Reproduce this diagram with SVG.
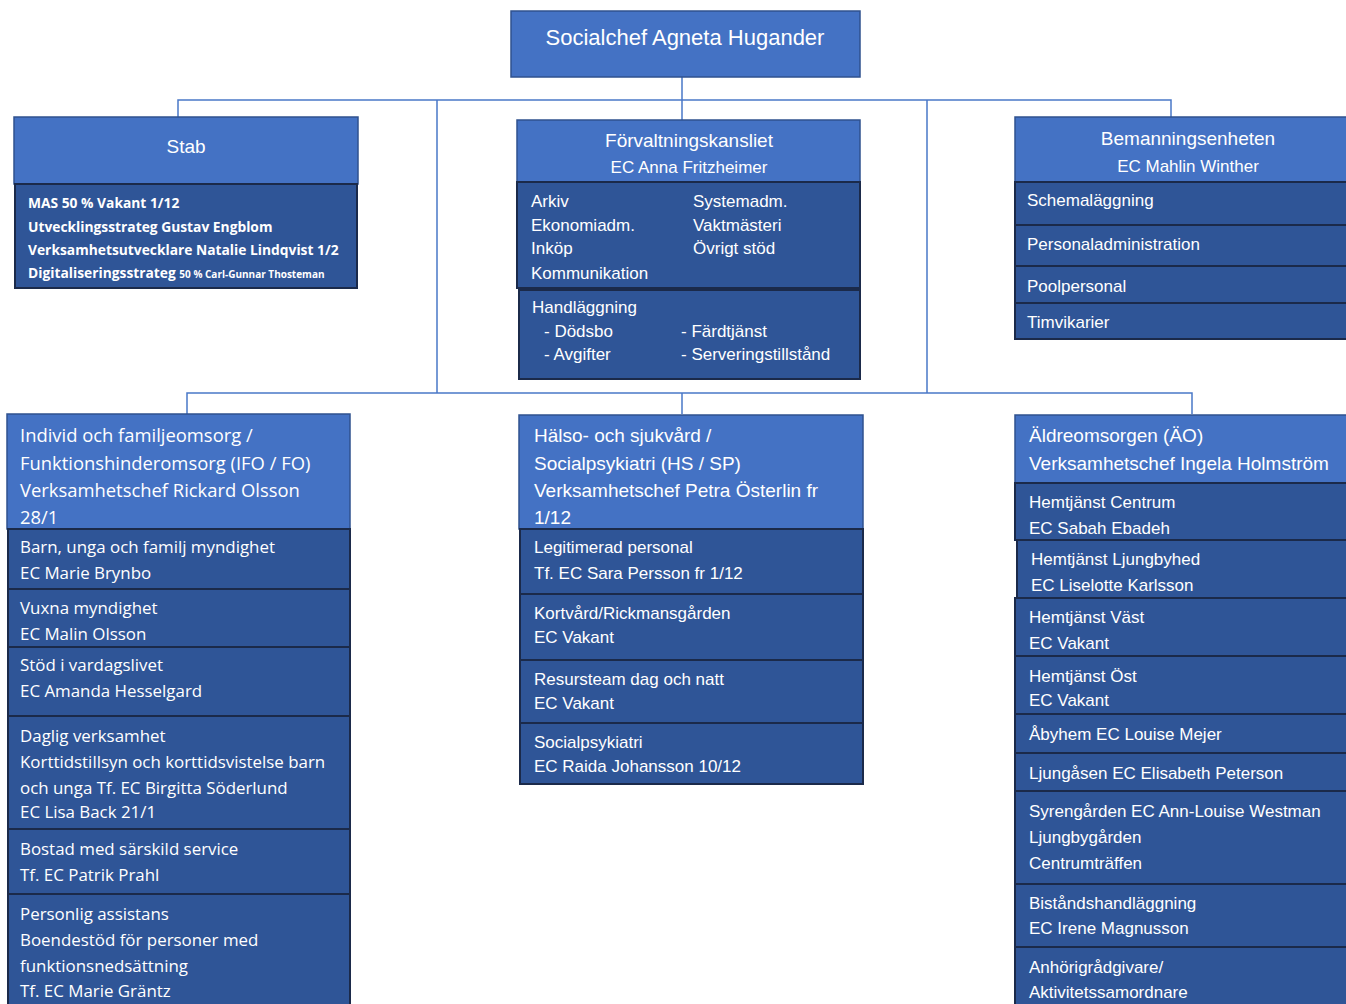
<svg xmlns="http://www.w3.org/2000/svg" width="1346" height="1004" viewBox="0 0 1346 1004">
<style>
.hd{fill:#4472C4;stroke:#2F528F;stroke-width:1.5}
.bx{fill:#2F5597;stroke:#1B2A4A;stroke-width:2}
.t{fill:#fff;font-family:"Liberation Sans",Arial,sans-serif;font-size:17px}
.th{fill:#fff;font-family:"Liberation Sans",Arial,sans-serif;font-size:19px}
.tt{fill:#fff;font-family:"Liberation Sans",Arial,sans-serif;font-size:22px}
.o{fill:#fff;font-family:"Open Sans",sans-serif;font-size:16.9px}
.oh{fill:#fff;font-family:"Open Sans",sans-serif;font-size:18.4px}
.sb{fill:#fff;font-family:"Open Sans",sans-serif;font-size:13.8px;font-weight:bold}
.sm{font-size:10px}
.c{text-anchor:middle}
.ln{stroke:#4A78C8;stroke-width:1.5;fill:none}
</style>
<rect width="1346" height="1004" fill="#fff"/>
<g id="connectors">
<path class="ln" d="M682 77V100M178 117V100H1171V117M682 100V120M437 100V393M927 100V393M187 414V393H1192V414M682 393V414"/>
</g>
<g id="socialchef">
<rect class="hd" x="511" y="11" width="349" height="66"/>
<text class="tt c" x="685" y="45">Socialchef Agneta Hugander</text>
</g>
<g id="stab">
<rect class="hd" x="14" y="117" width="344" height="67"/>
<text class="th c" x="186" y="153">Stab</text>
<rect class="bx" x="15" y="184" width="342" height="104"/>
<text class="sb" x="28" y="208">MAS 50 % Vakant 1/12</text>
<text class="sb" x="28" y="232">Utvecklingsstrateg Gustav Engblom</text>
<text class="sb" x="28" y="255">Verksamhetsutvecklare Natalie Lindqvist 1/2</text>
<text class="sb" x="28" y="278">Digitaliseringsstrateg <tspan class="sm">50 % Carl-Gunnar Thosteman</tspan></text>
</g>
<g id="forvaltning">
<rect class="hd" x="517" y="120" width="343" height="62"/>
<text class="th c" x="689" y="147">Förvaltningskansliet</text>
<text class="t c" x="689" y="173">EC Anna Fritzheimer</text>
<rect class="bx" x="517" y="182" width="343" height="106"/>
<text class="t" x="531" y="207">Arkiv</text>
<text class="t" x="531" y="231">Ekonomiadm.</text>
<text class="t" x="531" y="254">Inköp</text>
<text class="t" x="531" y="279">Kommunikation</text>
<text class="t" x="693" y="207">Systemadm.</text>
<text class="t" x="693" y="231">Vaktmästeri</text>
<text class="t" x="693" y="254">Övrigt stöd</text>
<rect class="bx" x="519" y="290" width="341" height="89"/>
<text class="t" x="532" y="313">Handläggning</text>
<text class="t" x="544" y="337">- Dödsbo</text>
<text class="t" x="544" y="360">- Avgifter</text>
<text class="t" x="681" y="337">- Färdtjänst</text>
<text class="t" x="681" y="360">- Serveringstillstånd</text>
</g>
<g id="bemanning">
<rect class="hd" x="1015" y="117" width="340" height="65"/>
<text class="th c" x="1188" y="145">Bemanningsenheten</text>
<text class="t c" x="1188" y="172">EC Mahlin Winther</text>
<rect class="bx" x="1015" y="182" width="340" height="43"/>
<rect class="bx" x="1015" y="225" width="340" height="41"/>
<rect class="bx" x="1015" y="266" width="340" height="37"/>
<rect class="bx" x="1015" y="303" width="340" height="36"/>
<text class="t" x="1027" y="206">Schemaläggning</text>
<text class="t" x="1027" y="250">Personaladministration</text>
<text class="t" x="1027" y="292">Poolpersonal</text>
<text class="t" x="1027" y="328">Timvikarier</text>
</g>
<g id="ifo">
<rect class="hd" x="7" y="414" width="343" height="115"/>
<text class="oh" x="20" y="442">Individ och familjeomsorg /</text>
<text class="oh" x="20" y="470">Funktionshinderomsorg (IFO / FO)</text>
<text class="oh" x="20" y="497">Verksamhetschef Rickard Olsson</text>
<text class="oh" x="20" y="524">28/1</text>
<rect class="bx" x="8" y="529" width="342" height="60"/>
<rect class="bx" x="8" y="589" width="342" height="58"/>
<rect class="bx" x="8" y="647" width="342" height="69"/>
<rect class="bx" x="8" y="716" width="342" height="113"/>
<rect class="bx" x="8" y="829" width="342" height="65"/>
<rect class="bx" x="8" y="894" width="342" height="120"/>
<text class="o" x="20" y="553">Barn, unga och familj myndighet</text>
<text class="o" x="20" y="579">EC Marie Brynbo</text>
<text class="o" x="20" y="614">Vuxna myndighet</text>
<text class="o" x="20" y="640">EC Malin Olsson</text>
<text class="o" x="20" y="671">Stöd i vardagslivet</text>
<text class="o" x="20" y="697">EC Amanda Hesselgard</text>
<text class="o" x="20" y="742">Daglig verksamhet</text>
<text class="o" x="20" y="768">Korttidstillsyn och korttidsvistelse barn</text>
<text class="o" x="20" y="794">och unga Tf. EC Birgitta Söderlund</text>
<text class="o" x="20" y="818">EC Lisa Back 21/1</text>
<text class="o" x="20" y="855">Bostad med särskild service</text>
<text class="o" x="20" y="881">Tf. EC Patrik Prahl</text>
<text class="o" x="20" y="920">Personlig assistans</text>
<text class="o" x="20" y="946">Boendestöd för personer med</text>
<text class="o" x="20" y="972">funktionsnedsättning</text>
<text class="o" x="20" y="997">Tf. EC Marie Gräntz</text>
</g>
<g id="halso">
<rect class="hd" x="519" y="415" width="344" height="114"/>
<text class="th" x="534" y="442">Hälso- och sjukvård /</text>
<text class="th" x="534" y="470">Socialpsykiatri (HS / SP)</text>
<text class="th" x="534" y="497">Verksamhetschef Petra Österlin fr</text>
<text class="th" x="534" y="524">1/12</text>
<rect class="bx" x="520" y="529" width="343" height="65"/>
<rect class="bx" x="520" y="594" width="343" height="66"/>
<rect class="bx" x="520" y="660" width="343" height="63"/>
<rect class="bx" x="520" y="723" width="343" height="61"/>
<text class="t" x="534" y="553">Legitimerad personal</text>
<text class="t" x="534" y="579">Tf. EC Sara Persson fr 1/12</text>
<text class="t" x="534" y="619">Kortvård/Rickmansgården</text>
<text class="t" x="534" y="643">EC Vakant</text>
<text class="t" x="534" y="685">Resursteam dag och natt</text>
<text class="t" x="534" y="709">EC Vakant</text>
<text class="t" x="534" y="748">Socialpsykiatri</text>
<text class="t" x="534" y="772">EC Raida Johansson 10/12</text>
</g>
<g id="aldre">
<rect class="hd" x="1015" y="415" width="340" height="68"/>
<text class="th" x="1029" y="442">Äldreomsorgen (ÄO)</text>
<text class="th" x="1029" y="470">Verksamhetschef Ingela Holmström</text>
<rect class="bx" x="1015" y="483" width="340" height="57"/>
<rect class="bx" x="1017" y="540" width="338" height="58"/>
<rect class="bx" x="1015" y="598" width="340" height="58"/>
<rect class="bx" x="1015" y="656" width="340" height="58"/>
<rect class="bx" x="1015" y="714" width="340" height="39"/>
<rect class="bx" x="1015" y="753" width="340" height="38"/>
<rect class="bx" x="1015" y="791" width="340" height="93"/>
<rect class="bx" x="1015" y="884" width="340" height="63"/>
<rect class="bx" x="1015" y="947" width="340" height="67"/>
<text class="t" x="1029" y="508">Hemtjänst Centrum</text>
<text class="t" x="1029" y="534">EC Sabah Ebadeh</text>
<text class="t" x="1031" y="565">Hemtjänst Ljungbyhed</text>
<text class="t" x="1031" y="591">EC Liselotte Karlsson</text>
<text class="t" x="1029" y="623">Hemtjänst Väst</text>
<text class="t" x="1029" y="649">EC Vakant</text>
<text class="t" x="1029" y="682">Hemtjänst Öst</text>
<text class="t" x="1029" y="706">EC Vakant</text>
<text class="t" x="1029" y="740">Åbyhem EC Louise Mejer</text>
<text class="t" x="1029" y="779">Ljungåsen EC Elisabeth Peterson</text>
<text class="t" x="1029" y="817">Syrengården EC Ann-Louise Westman</text>
<text class="t" x="1029" y="843">Ljungbygården</text>
<text class="t" x="1029" y="869">Centrumträffen</text>
<text class="t" x="1029" y="909">Biståndshandläggning</text>
<text class="t" x="1029" y="934">EC Irene Magnusson</text>
<text class="t" x="1029" y="973">Anhörigrådgivare/</text>
<text class="t" x="1029" y="998">Aktivitetssamordnare</text>
</g>
</svg>
